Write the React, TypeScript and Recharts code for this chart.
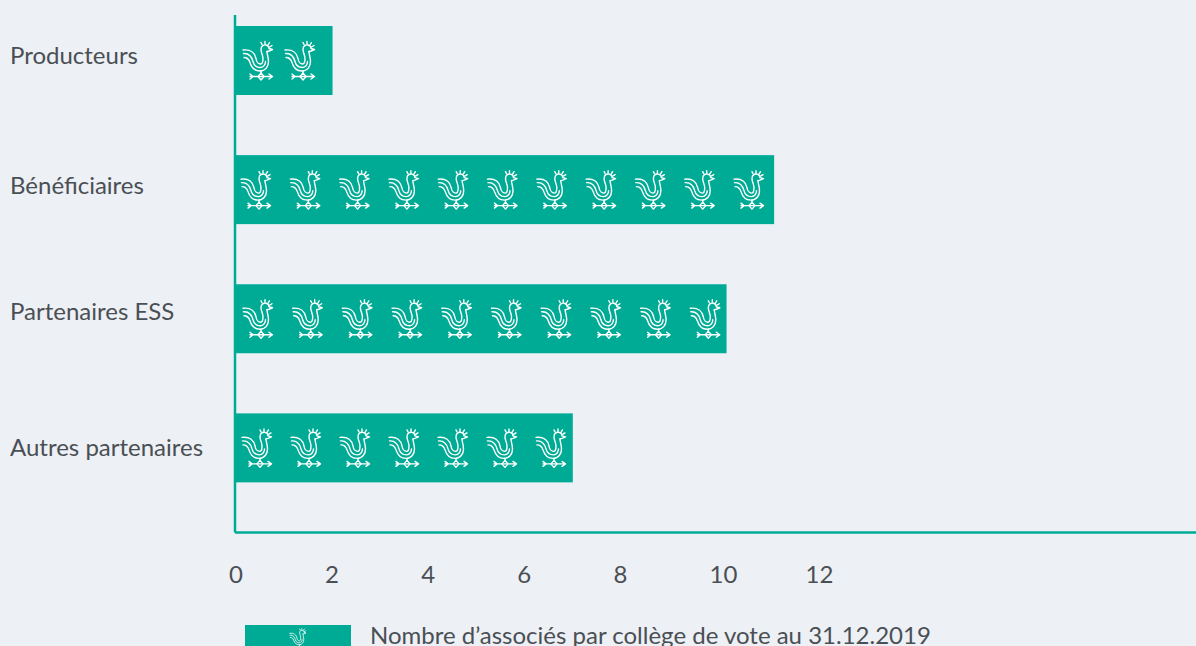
import { Bar, BarChart, Legend, XAxis, YAxis } from 'recharts'

const categories = ['Producteurs', 'Bénéficiaires', 'Partenaires ESS', 'Autres partenaires']
// where each bar ends, read against the visible axis
const barLengths = [2.03, 11.22, 10.23, 7.03]
// number of roosters drawn in each bar
const associes = [2, 11, 10, 7]
const xTicks = [0, 2, 4, 6, 8, 10, 12]
const legendLabel = 'Nombre d’associés par collège de vote au 31.12.2019'

const chartData = categories.map((college, i) => ({
  college,
  longueur: barLengths[i],
  associes: associes[i],
}))

const TEAL = '#00ab96'
const TEXT = '#4a4f54'
const FONT = 'Lato, sans-serif'
const FONT_SIZE = 24
const roosterStart = [23, 21, 23, 22]
const roosterStep = [42, 49.3, 49.7, 49]
const labelNudge = [-5, -4, -7, 0]

function Rooster({ x, y, scale = 1 }: { x: number; y: number; scale?: number }) {
  return (
    <g
      transform={`translate(${x} ${y}) scale(${scale})`}
      fill="none"
      stroke="#fff"
      strokeWidth={1.4}
      strokeLinecap="round"
      strokeLinejoin="round"
    >
      {/* tail and body */}
      <path d="M-14 -3 C-10 -3 -9 -1 -8 2 C-6.5 7 -3 10.5 2 10.5 C7.5 10.5 10.5 6 10.5 1 C10.5 -3 9 -6 9 -9" />
      <path d="M-14.5 -7 C-8 -7.5 -6 -3 -5 1 C-4 5 -1 7 2.5 7 C5.5 7 7.5 4 7.5 1" />
      {/* neck, head and beak */}
      <path d="M-15 -10.5 C-7 -11.5 -3 -7 -2 -2 C-1.5 2 1 3.5 2.5 3.5 C4.5 3.5 5 0 5 -2 C5 -5 3 -8 3 -11 C3 -15 6 -16 8 -15.5 C10 -15 11 -13 11 -12 L14.5 -11 L11 -9.5 L9 -9" />
      <path d="M4 -16 L3 -18 M7 -16.5 L7 -19 M10 -15.5 L11.5 -18 M11.5 -13.5 L14 -15" />
      {/* weather vane */}
      <path d="M3 10.5 L3 12.5 M-8 16 L14 16 M11 13.5 L14.5 16 L11 18.5 M-8 13.5 L-5 16 L-8 18.5" />
      <path d="M3 12.5 L6 16 L3 19.5 L0 16 Z" />
    </g>
  )
}

function RoosterBar(props: any) {
  const { x, y, width, height, index, payload } = props
  return (
    <g>
      <rect x={x} y={y} width={width} height={height} fill={TEAL} />
      {Array.from({ length: payload.associes }, (_, i) => (
        <Rooster key={i} x={x + roosterStart[index] + i * roosterStep[index]} y={y + height / 2} />
      ))}
    </g>
  )
}

function CollegeTick({ y, index, payload }: any) {
  return (
    <text x={10} y={y + labelNudge[index]} dy="0.35em" fontSize={FONT_SIZE} fontFamily={FONT} fill={TEXT}>
      {payload.value}
    </text>
  )
}

function ValueTick({ x, y, payload }: any) {
  return (
    <text x={x - 6} y={y} dy="0.35em" fontSize={FONT_SIZE} fontFamily={FONT} fill={TEXT}>
      {payload.value}
    </text>
  )
}

function LegendRow() {
  return (
    <div style={{ position: 'relative', height: 40 }}>
      <svg width={106} height={40} style={{ position: 'absolute', left: 0, top: 0 }}>
        <rect width={106} height={40} fill={TEAL} />
        <Rooster x={53} y={14} scale={0.55} />
      </svg>
      <span
        style={{
          position: 'absolute',
          left: 125,
          top: -2,
          whiteSpace: 'nowrap',
          fontSize: FONT_SIZE,
          lineHeight: '24px',
          fontFamily: FONT,
          color: TEXT,
        }}
      >
        {legendLabel}
      </span>
    </div>
  )
}

export default function App() {
  return (
    <div
      style={{
        position: 'absolute',
        left: 0,
        top: 0,
        width: 1196,
        height: 646,
        overflow: 'hidden',
        background: '#edf0f5',
      }}
    >
      <BarChart
        width={1196}
        height={700}
        layout="vertical"
        data={chartData}
        margin={{ top: 15, right: 0, bottom: 0, left: 0 }}
      >
        <XAxis
          type="number"
          domain={[0, 20]}
          ticks={xTicks}
          interval={0}
          height={127.5}
          tickLine={false}
          tickMargin={36}
          tick={<ValueTick />}
          axisLine={{ stroke: TEAL, strokeWidth: 2.5 }}
        />
        <YAxis
          type="category"
          dataKey="college"
          width={235}
          padding={{ top: -19, bottom: 20 }}
          tickLine={false}
          tick={<CollegeTick />}
          interval={0}
          axisLine={{ stroke: TEAL, strokeWidth: 2.5 }}
        />
        <Bar dataKey="longueur" barSize={69} isAnimationActive={false} shape={<RoosterBar />} />
        <Legend
          content={<LegendRow />}
          wrapperStyle={{ position: 'absolute', left: 245, top: 625, width: 900, bottom: 'auto' }}
        />
      </BarChart>
    </div>
  )
}
